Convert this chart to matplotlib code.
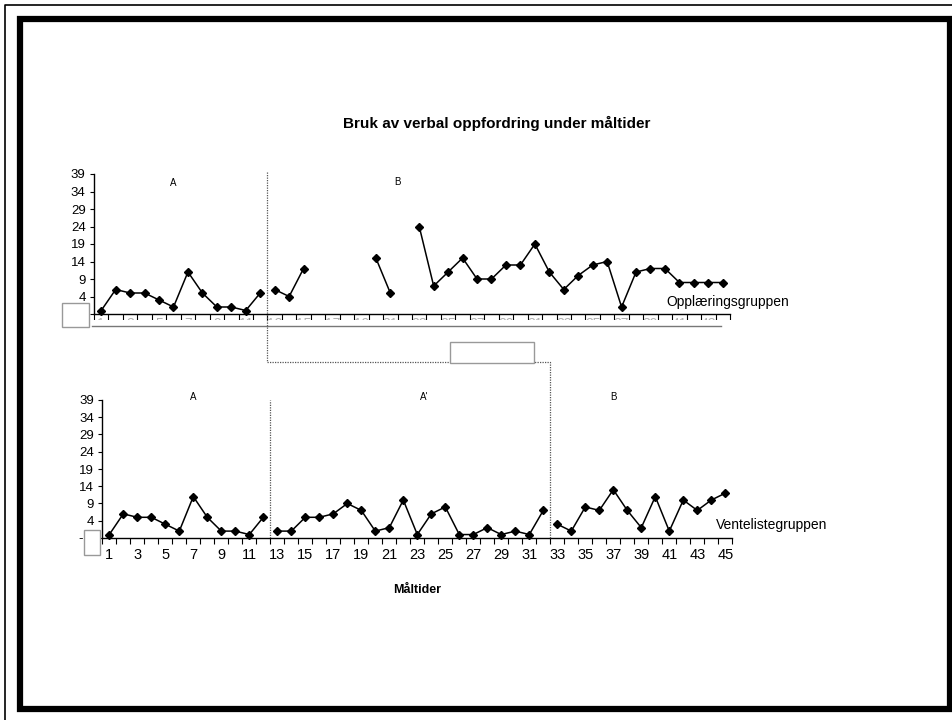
import numpy as np
import matplotlib
matplotlib.use("Agg")
import matplotlib.pyplot as plt
from matplotlib.patches import Rectangle
from matplotlib.lines import Line2D

plt.rcParams['font.family'] = ['Liberation Sans', 'DejaVu Sans']

W, H = 953, 720

title = "Bruk av verbal oppfordring under måltider"
xlabel = "Måltider"

# opplæringsgruppen (top panel), 44 meals
top_name = "Opplæringsgruppen"
top_meals = np.arange(1, 45)
top_a = [0, 6, 5, 5, 3, 1, 11, 5, 1, 1, 0, 5]
top_b = [6, 4, 12, np.nan, np.nan, np.nan, np.nan, 15, 5, np.nan, 24, 7, 11, 15,
         9, 9, 13, 13, 19, 11, 6, 10, 13, 14, 1, 11, 12, 12, 8, 8, 8, 8]
top_phases = ["A", "B"]

# ventelistegruppen (bottom panel), 45 meals
bot_name = "Ventelistegruppen"
bot_meals = np.arange(1, 46)
bot_a = [0, 6, 5, 5, 3, 1, 11, 5, 1, 1, 0, 5]
bot_a2 = [1, 1, 5, 5, 6, 9, 7, 1, 2, 10, 0, 6, 8, 0, 0, 2, 0, 1, 0, 7]
bot_b = [3, 1, 8, 7, 13, 7, 2, 11, 1, 10, 7, 10, 12]
bot_phases = ["A", "A'", "B"]

yticks = np.arange(-1, 40, 5)
ylabels = ["-   "] + [str(v) for v in yticks[1:]]


def fx(px):
    return px / W


def fy(py):
    return 1 - py / H


def series(ax, x, y):
    ax.plot(x, y, color='black', lw=1.1, marker='D', ms=4.0,
            mfc='black', mec='black', clip_on=False, zorder=3)


def style_axis(ax, n, lab_size):
    ax.set_xlim(0.5, n + 0.5)
    ax.set_ylim(-1, 39)
    for s in ['top', 'right']:
        ax.spines[s].set_visible(False)
    for s in ['left', 'bottom']:
        ax.spines[s].set_linewidth(1.0)
    ax.set_yticks(yticks)
    ax.set_yticklabels(ylabels)
    ax.tick_params(axis='y', length=3, width=0.8, pad=3, labelsize=lab_size)
    ax.set_xticks(np.arange(0.5, n + 1, 1))
    ax.set_xticklabels([])
    ax.tick_params(axis='x', which='major', length=4, width=0.8)
    ax.patch.set_alpha(0)


fig = plt.figure(figsize=(9.53, 7.2), dpi=100)

ax1 = fig.add_axes([fx(94), fy(314), (730 - 94) / W, (314 - 174) / H])
ax2 = fig.add_axes([fx(102.3), fy(538), (732.3 - 102.3) / W, (538 - 400) / H])

style_axis(ax1, len(top_meals), 9.5)
style_axis(ax2, len(bot_meals), 9.5)

# top: labels mostly hidden under a white strip
ax1.set_xticks(top_meals[::2], minor=True)
ax1.set_xticklabels([str(v) for v in top_meals[::2]], minor=True)
ax1.tick_params(axis='x', which='minor', length=0, pad=2, labelsize=10, labelcolor='#b0b0b0')

ax2.set_xticks(bot_meals[::2], minor=True)
ax2.set_xticklabels([str(v) for v in bot_meals[::2]], minor=True)
ax2.tick_params(axis='x', which='minor', length=0, pad=7, labelsize=10.5)

series(ax1, top_meals[:12], top_a)
series(ax1, top_meals[12:], top_b)

series(ax2, bot_meals[:12], bot_a)
series(ax2, bot_meals[12:32], bot_a2)
series(ax2, bot_meals[32:], bot_b)

dot = dict(color='#555555', lw=0.9, ls=(0, (1, 1)))
ax2.axvline(12.5, **dot)

# phase labels
ax1.text(6, 36.5, top_phases[0], fontsize=7, ha='center', va='center')
ax1.text(21.5, 36.8, top_phases[1], fontsize=7, ha='center', va='center')
ax2.text(7, 40, bot_phases[0], fontsize=7, ha='center', va='center', clip_on=False)
ax2.text(23.5, 40, bot_phases[1], fontsize=7, ha='center', va='center', clip_on=False)
ax2.text(37, 40, bot_phases[2], fontsize=7, ha='center', va='center', clip_on=False)

ax1.text(40.1, 2.3, top_name, fontsize=10, ha='left', va='center', clip_on=False)
ax2.text(44.3, 2.75, bot_name, fontsize=10, ha='left', va='center', clip_on=False)

fig.text(fx(496.7), fy(123), title, fontsize=11, fontweight='bold', ha='center', va='center')
fig.text(fx(417.5), fy(590), xlabel, fontsize=9, fontweight='bold', ha='center', va='center')

# white strip over the top panel's category labels
fig.patches.append(Rectangle((fx(88), fy(345)), (740 - 88) / W, (345 - 319.5) / H,
                             transform=fig.transFigure, fc='white', ec='none', zorder=5))
fig.lines.append(Line2D([fx(92), fx(721)], [fy(325.7), fy(325.7)], transform=fig.transFigure,
                        color='#777777', lw=1.0, zorder=6))

# dotted phase-change line linking the panels
x_top = ax1.transData.transform((12.5, 0))[0]
y_top = ax1.transData.transform((0, 39.7))[1]
x_bot = ax2.transData.transform((32.5, 0))[0]
y_bot = ax2.transData.transform((0, -1))[1]
y_link = H - 361.7
fig.lines.append(Line2D([x_top / W, x_top / W, x_bot / W, x_bot / W],
                        [y_top / H, y_link / H, y_link / H, y_bot / H],
                        transform=fig.transFigure, zorder=7, **dot))

# empty boxes
box = dict(transform=fig.transFigure, fc='white', ec='#999999', lw=1.0, zorder=8)
fig.patches.append(Rectangle((fx(61.7), fy(326.7)), (89.3 - 61.7) / W, (326.7 - 303.3) / H, **box))
fig.patches.append(Rectangle((fx(84.3), fy(555)), (100 - 84.3) / W, (555 - 530) / H, **box))
fig.patches.append(Rectangle((fx(450), fy(362.7)), (534.3 - 450) / W, (362.7 - 341.7) / H, **box))

# frame
fig.lines.append(Line2D([fx(5), fx(5), fx(953)], [fy(720), fy(5), fy(5)],
                        transform=fig.transFigure, color='black', lw=1.2, zorder=9))
fig.patches.append(Rectangle((fx(20), fy(709.4)), (950 - 20) / W, (709.4 - 19.4) / H,
                             transform=fig.transFigure, fill=False, ec='black', lw=4.5,
                             joinstyle='miter', zorder=9))

fig.savefig("out.png", dpi=100, facecolor='white')
